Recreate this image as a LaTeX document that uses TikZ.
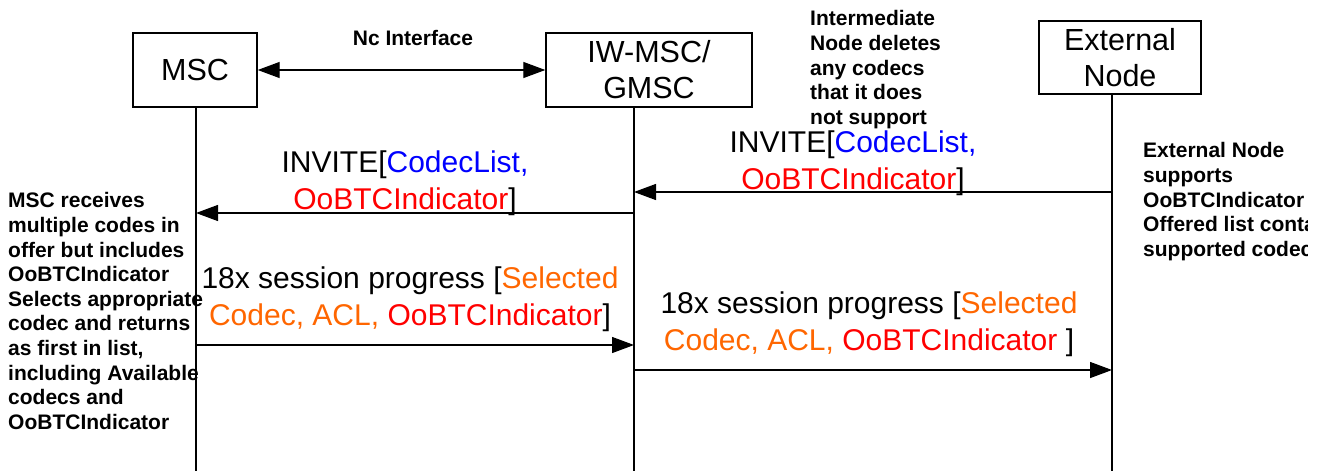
\documentclass[tikz,border=0pt]{standalone}
\usepackage{fontspec}
\setmainfont{Liberation Sans}
\usetikzlibrary{arrows.meta}
\definecolor{cblue}{RGB}{0,0,255}
\definecolor{cred}{RGB}{255,0,0}
\definecolor{corange}{RGB}{255,102,0}
\begin{document}
\begin{tikzpicture}[x=1pt,y=-1pt,
 ent/.style={draw, line width=1.4pt, inner sep=0pt, align=center, font=\fontsize{30.5}{36}\selectfont},
 life/.style={line width=1.3pt},
 msg/.style={line width=1.3pt, -{Triangle[length=22pt,width=16pt]}},
 dmsg/.style={line width=1.3pt, {Triangle[length=22pt,width=16pt]}-{Triangle[length=22pt,width=16pt]}},
 lbl/.style={inner sep=0pt, align=center, font=\fontsize{30}{37}\selectfont},
 note/.style={inner sep=0pt, align=left, anchor=north west, font=\bfseries\fontsize{21}{24.6}\selectfont}]
\useasboundingbox (0,0) rectangle (1329,471);
% entities
\node[ent, minimum width=124pt, minimum height=74pt] (msc) at (195,70) {MSC};
\node[ent, minimum width=206pt, minimum height=74pt] (iw) at (649,70) {IW-MSC/\\GMSC};
\node[ent, minimum width=162pt, minimum height=73pt] (ext) at (1120,57.5) {External\\Node};
% lifelines
\coordinate (mscT) at (196,107);
\coordinate (mscB) at (196,471);
\coordinate (iwT) at (634,107);
\coordinate (iwB) at (634,471);
\coordinate (extT) at (1112,94);
\coordinate (extB) at (1112,471);
\draw[life] (mscT) -- (mscB);
\draw[life] (iwT) -- (iwB);
\draw[life] (extT) -- (extB);
% Nc interface
\draw[dmsg] (msc.east) -- (iw.west);
\node[inner sep=0pt, font=\bfseries\fontsize{21}{24.6}\selectfont] (nc) at (413,38) {Nc Interface};
% message end points
\coordinate (a1s) at (634,213);
\coordinate (a1e) at (196,213);
\coordinate (a2s) at (1112,192);
\coordinate (a2e) at (634,192);
\coordinate (a3s) at (196,345);
\coordinate (a3e) at (634,345);
\coordinate (a4s) at (634,370);
\coordinate (a4e) at (1112,370);
\draw[msg] (a2s) -- (a2e);
\draw[msg] (a1s) -- (a1e);
\draw[msg] (a3s) -- (a3e);
\draw[msg] (a4s) -- (a4e);
% labels
\node[lbl] (l2) at (853,163.5) {INVITE[\textcolor{cblue}{CodecList,}\\\textcolor{cred}{OoBTCIndicator}]};
\node[lbl] (l1) at (405,183) {INVITE[\textcolor{cblue}{CodecList,}\\\textcolor{cred}{OoBTCIndicator}]};
\node[lbl] (l3) at (410,299) {18x session progress [\textcolor{corange}{Selected}\\\textcolor{corange}{Codec, ACL,} \textcolor{cred}{OoBTCIndicator}]};
\node[lbl] (l4) at (869,324.5) {18x session progress [\textcolor{corange}{Selected}\\\textcolor{corange}{Codec, ACL,} \textcolor{cred}{OoBTCIndicator} ]};
% notes
\node[note] (nInt) at (810,10.5) {Intermediate\\Node deletes\\any codecs\\that it does\\not support};
\node[note] (nMsc) at (8,192.5) {MSC receives\\multiple codes in\\offer but includes\\OoBTCIndicator\\Selects appropriate\\codec and returns\\as first in list,\\including Available\\codecs and\\OoBTCIndicator};
\begin{scope}
\clip (0,0) rectangle (1307,471);
\node[note] (nExt) at (1143,142.5) {External Node\\supports\\OoBTCIndicator\\Offered list contains\\supported codecs};
\end{scope}
\end{tikzpicture}
\end{document}
